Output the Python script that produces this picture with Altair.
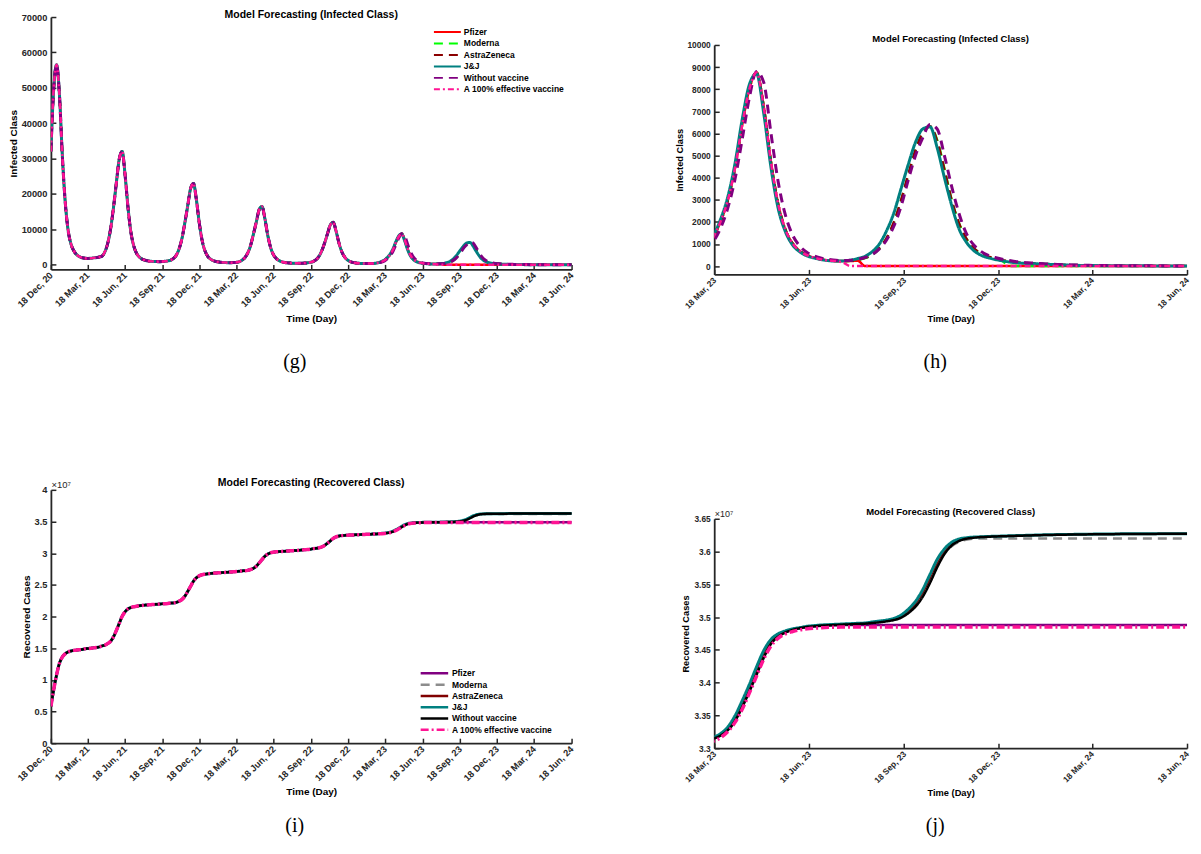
import altair as alt
import pandas as pd

SERIES = ["Pfizer", "Moderna", "AstraZeneca", "J&J", "Without vaccine", "A 100% effective vaccine"]
WEEK_DATES = pd.date_range("2020-12-18", periods=184, freq="7D").strftime("%Y-%m-%d").tolist()

# ---------------- Infected class (weekly samples) ----------------
INF_BASE = [
    32000, 50000, 56500, 48000, 31000, 18000, 10000, 6000, 4000, 2900,
    2300, 2000, 1850, 1800, 1850, 1950, 2050, 2200, 2500, 3800,
    6300, 10500, 16500, 23500, 30000, 32000, 25500, 16500, 9500, 5500,
    3300, 2200, 1600, 1300, 1100, 1000, 950, 900, 880, 900,
    1000, 1100, 1300, 1800, 2750, 4600, 7600, 12000, 16800, 21600,
    23000, 18500, 12000, 7000, 4000, 2400, 1600, 1150, 900, 760,
    680, 630, 600, 600, 620, 680, 850, 1300, 2000, 3300,
    5400, 8600, 12000, 15500, 16500, 13200, 8500, 5000, 2900, 1800,
    1200, 850, 650, 540, 480, 450, 440, 440, 450, 480,
    560, 700, 940, 1450, 2400, 4000, 6200, 8800, 11300, 12000,
    9500, 6200, 3700, 2200, 1350, 900, 650, 500, 420, 380,
    360, 350, 350, 380, 470, 620,
]
INF_JJ = [
    950, 1380, 2100, 3100, 4600, 6600, 8200, 8700, 6900, 4460,
    2600, 1550, 950, 640, 460, 360, 290, 245, 225, 235,
    270, 340, 440, 650, 1000, 1600, 2400, 3500, 4600, 5600,
    6200, 6300, 5350, 4000, 2750, 1700, 1100, 720, 500, 380,
    300, 240, 185, 150, 125, 110, 100, 85, 70, 55,
    45, 35, 30, 26, 22, 19, 17, 15, 13, 12,
    11, 10, 9, 8, 8, 7, 7, 6,
]
INF_WITHOUT = [
    750, 1100, 1700, 2600, 3900, 5700, 7600, 8800, 8300, 6000,
    3800, 2300, 1400, 900, 620, 460, 360, 300, 260, 250,
    265, 310, 390, 520, 780, 1180, 1800, 2700, 3900, 5000,
    5800, 6400, 6200, 5000, 3600, 2400, 1500, 980, 680, 500,
    390, 310, 250, 200, 165, 140, 120, 100, 85, 70,
    58, 48, 40, 34, 29, 25, 22, 19, 17, 15,
    13, 12, 11, 10, 9, 8, 8, 7,
]
INF_PFIZER = [
    880, 1300, 2000, 2950, 4400, 6350, 8000, 8750, 7200, 4700,
    2800, 1650, 1020, 680, 490, 380, 300, 255, 230, 225,
    230, 240, 0, 0, 0, 0, 0, 0, 0, 0,
] + [0] * 38
INF_FULL = [
    880, 1300, 2000, 2950, 4400, 6350, 8000, 8750, 7200, 4700,
    2800, 1650, 1020, 680, 490, 380, 300, 255, 230, 150,
    0, 0, 0, 0, 0, 0, 0, 0, 0, 0,
] + [0] * 38
INF_MODERNA = [
    880, 1300, 2000, 2950, 4400, 6350, 8000, 8750, 7200, 4700,
    2800, 1650, 1020, 680, 490, 380, 300, 255, 230, 225,
    240, 280, 360, 500, 800, 1250, 1950, 2950, 4100, 5200,
    6000, 6300, 5700, 4400, 3000, 1950, 1250, 820, 560, 420,
    320, 230,
] + [0] * 26
INF_ASTRA = [
    880, 1300, 2000, 2950, 4400, 6350, 8000, 8750, 7200, 4700,
    2800, 1650, 1020, 680, 490, 380, 300, 255, 230, 225,
    240, 285, 370, 520, 820, 1270, 1980, 2980, 4150, 5250,
    6050, 6320, 5650, 4350, 2980, 1950, 1260, 830, 580, 440,
    340, 270, 215, 175, 145, 125, 110, 95, 80, 66,
    54, 44, 36, 30, 26, 22, 19, 16, 14, 12,
    11, 10, 9, 8, 7, 7, 6, 6,
]

# ---------------- Recovered class (units of 1e7, weekly) ----------------
REC_BASE = [
    0.58, 0.85, 1.08, 1.26, 1.36, 1.41, 1.44, 1.455, 1.465, 1.47,
    1.475, 1.48, 1.49, 1.495, 1.50, 1.505, 1.51, 1.52, 1.536, 1.549,
    1.575, 1.613, 1.684, 1.786, 1.895, 2.004, 2.074, 2.119, 2.141, 2.154,
    2.162, 2.17, 2.175, 2.18, 2.183, 2.186, 2.19, 2.193, 2.196, 2.20,
    2.203, 2.207, 2.212, 2.215, 2.224, 2.243, 2.271, 2.323, 2.398, 2.478,
    2.558, 2.61, 2.642, 2.659, 2.668, 2.674, 2.68, 2.685, 2.688, 2.69,
    2.693, 2.696, 2.70, 2.703, 2.706, 2.71, 2.715, 2.72, 2.723, 2.729,
    2.742, 2.76, 2.794, 2.844, 2.897, 2.949, 2.984, 3.005, 3.015, 3.021,
    3.025, 3.028, 3.031, 3.034, 3.037, 3.04, 3.043, 3.046, 3.05, 3.054,
    3.058, 3.062, 3.072, 3.077, 3.085, 3.099, 3.123, 3.158, 3.195, 3.233,
    3.257, 3.270, 3.277, 3.281, 3.284, 3.286, 3.288, 3.290, 3.292, 3.294,
    3.296, 3.298, 3.300, 3.302, 3.304, 3.306,
]
REC_JJ = [
    3.3135, 3.3165, 3.322, 3.332, 3.349, 3.372, 3.397, 3.424, 3.449, 3.466,
    3.4745, 3.479, 3.482, 3.484, 3.486, 3.487, 3.488, 3.4885, 3.489, 3.4895,
    3.490, 3.4905, 3.491, 3.4925, 3.494, 3.4955, 3.498, 3.503, 3.512, 3.524,
    3.542, 3.565, 3.588, 3.604, 3.614, 3.619, 3.621, 3.622, 3.6225, 3.623,
    3.6233, 3.6236, 3.624, 3.6243, 3.6246, 3.6249, 3.6252, 3.6255, 3.6257, 3.6259,
    3.6261, 3.6262, 3.6264, 3.6265, 3.6266, 3.6267, 3.6268, 3.6269, 3.627, 3.627,
    3.627, 3.627, 3.627, 3.627, 3.627, 3.627, 3.627, 3.627,
]
REC_WITHOUT = [
    3.312, 3.3145, 3.319, 3.327, 3.341, 3.362, 3.386, 3.412, 3.438, 3.459,
    3.470, 3.4765, 3.4805, 3.483, 3.485, 3.486, 3.487, 3.4875, 3.488, 3.4885,
    3.489, 3.4895, 3.490, 3.491, 3.492, 3.4935, 3.4955, 3.499, 3.506, 3.516,
    3.531, 3.552, 3.576, 3.596, 3.609, 3.616, 3.6195, 3.621, 3.622, 3.6225,
    3.623, 3.6233, 3.6236, 3.624, 3.6243, 3.6246, 3.6249, 3.6252, 3.6254, 3.6256,
    3.6258, 3.626, 3.6261, 3.6262, 3.6263, 3.6264, 3.6265, 3.6266, 3.6267, 3.6268,
    3.6268, 3.6269, 3.6269, 3.627, 3.627, 3.627, 3.627, 3.627,
]
REC_ASTRA = [
    3.3128, 3.3155, 3.3205, 3.3295, 3.345, 3.367, 3.3915, 3.418, 3.4435, 3.4625,
    3.472, 3.4778, 3.4813, 3.4835, 3.4855, 3.4865, 3.4875, 3.488, 3.4885, 3.489,
    3.4895, 3.490, 3.4905, 3.492, 3.493, 3.4945, 3.497, 3.501, 3.509, 3.520,
    3.5365, 3.5585, 3.582, 3.600, 3.6115, 3.6175, 3.620, 3.6215, 3.6222, 3.6228,
    3.6233, 3.6236, 3.624, 3.6243, 3.6246, 3.6249, 3.6252, 3.6255, 3.6257, 3.6259,
    3.6261, 3.6262, 3.6264, 3.6265, 3.6266, 3.6267, 3.6268, 3.6269, 3.627, 3.627,
    3.627, 3.627, 3.627, 3.627, 3.627, 3.627, 3.627, 3.627,
]
REC_MODERNA = [
    3.3128, 3.3155, 3.3205, 3.3295, 3.345, 3.367, 3.3915, 3.418, 3.4435, 3.4625,
    3.472, 3.4778, 3.4813, 3.4835, 3.4855, 3.4865, 3.4875, 3.488, 3.4885, 3.489,
    3.4895, 3.490, 3.4905, 3.492, 3.493, 3.4945, 3.497, 3.501, 3.509, 3.520,
    3.5365, 3.558, 3.580, 3.597, 3.608, 3.6145, 3.618, 3.6195,
] + [3.620] * 30
REC_PFIZER = [
    3.3125, 3.315, 3.3205, 3.3295, 3.345, 3.367, 3.392, 3.418, 3.444, 3.463,
    3.472, 3.477, 3.481, 3.483, 3.4848, 3.4858, 3.4866, 3.4872, 3.4876, 3.4878,
] + [3.488] * 48
REC_FULL = [
    3.3075, 3.3105, 3.316, 3.325, 3.339, 3.359, 3.384, 3.410, 3.436, 3.456,
    3.468, 3.4745, 3.478, 3.4805, 3.482, 3.483, 3.4838, 3.4843, 3.4846, 3.4848,
] + [3.485] * 48

INF_TAILS = [INF_PFIZER, INF_MODERNA, INF_ASTRA, INF_JJ, INF_WITHOUT, INF_FULL]
REC_TAILS = [REC_PFIZER, REC_MODERNA, REC_ASTRA, REC_JJ, REC_WITHOUT, REC_FULL]

INF_COLORS = ["#FF0000", "#00FF00", "#8B0000", "#008080", "#800080", "#FF1493"]
INF_DASHES = [[1, 0], [9, 6], [9, 6], [1, 0], [9, 6], [6, 3, 2, 3]]
INF_WIDTHS = [2.5, 2.5, 2.5, 3, 3, 2.5]

REC_COLORS = ["#800080", "#8C8C8C", "#800000", "#008080", "#000000", "#FF1493"]
REC_DASHES = [[1, 0], [9, 6], [1, 0], [1, 0], [1, 0], [8, 3, 2, 3]]
REC_WIDTHS = [2.5, 2.5, 1.5, 3, 2.5, 3.5]

INF_Y_TICKS_G = [0, 10000, 20000, 30000, 40000, 50000, 60000, 70000]
INF_Y_TICKS_H = [0, 1000, 2000, 3000, 4000, 5000, 6000, 7000, 8000, 9000, 10000]
REC_Y_TICKS_I = [0, 0.5, 1, 1.5, 2, 2.5, 3, 3.5, 4]
REC_Y_TICKS_J = [3.3, 3.35, 3.4, 3.45, 3.5, 3.55, 3.6, 3.65]


def frame(base, tails):
    rows = []
    for name, tail in zip(SERIES, tails):
        vals = base + tail
        assert len(vals) == len(WEEK_DATES), (name, len(vals))
        for d, v in zip(WEEK_DATES, vals):
            rows.append({"date": d, "series": name, "value": v})
    return pd.DataFrame(rows)


INF_DF = frame(INF_BASE, INF_TAILS)
REC_DF = frame(REC_BASE, REC_TAILS)


def dt(y, m):
    return alt.DateTime(year=y, month=m, date=18, utc=True)


FULL_TICKS = [dt(2020, 12)] + [dt(y, m) for y in (2021, 2022, 2023) for m in (3, 6, 9, 12)] + [dt(2024, 3), dt(2024, 6)]
ZOOM_TICKS = [dt(2023, 3), dt(2023, 6), dt(2023, 9), dt(2023, 12), dt(2024, 3), dt(2024, 6)]

AX = "#262626"


def panel(df, colors, dashes, widths, x_dom, x_ticks, y_dom, y_ticks, y_fmt, y_title, title,
          fs, w, h, top, cap, cap_x, cap_y, t_offset, t_dy, legend=None, date_min=None, exp_label=False):
    # top: pixels of empty room above the plotted area inside the view
    if date_min is not None:
        df = df[df["date"] >= date_min]
    xscale = alt.Scale(type="utc", domain=x_dom)
    yscale = alt.Scale(domain=y_dom, nice=False, zero=False, range=[h + top, top])
    xaxis = alt.Axis(values=x_ticks, format="%d %b, %y", labelAngle=-45, labelAlign="right",
                     labelBaseline="middle", labelOverlap=False, labelFlush=False,
                     labelFontSize=fs["tick"], labelFontWeight="bold", labelColor=AX,
                     labelPadding=9, tickSize={"expr": "-5"}, tickColor=AX, tickWidth=1.5,
                     domainColor=AX, domainWidth=1.8, grid=False,
                     title="Time (Day)", titleFontSize=fs["axis"], titleFontWeight="bold",
                     titleColor="#000000", titlePadding=4)
    yaxis = alt.Axis(values=y_ticks, format=y_fmt, labelOverlap=False, labelFlush=False,
                     labelFontSize=fs["tick"], labelFontWeight="bold", labelColor=AX,
                     labelPadding=9, tickSize={"expr": "-5"}, tickColor=AX, tickWidth=1.5,
                     domainColor=AX, domainWidth=1.8, grid=False,
                     title=y_title, titleFontSize=fs["axis"], titleFontWeight="bold",
                     titleColor="#000000", titlePadding=3)
    lines = []
    for name, wd in zip(SERIES, widths):
        sub = df[df["series"] == name]
        lines.append(
            alt.Chart(sub).mark_line(strokeWidth=wd, clip=True, interpolate="monotone").encode(
                x=alt.X("date:T", scale=xscale, axis=xaxis),
                y=alt.Y("value:Q", scale=yscale, axis=yaxis),
                color=alt.Color("series:N", scale=alt.Scale(domain=SERIES, range=colors), legend=legend),
                strokeDash=alt.StrokeDash("series:N", scale=alt.Scale(domain=SERIES, range=dashes), legend=legend),
            )
        )
    cap_axis = alt.Axis(orient="bottom", title=cap, titleFont="Liberation Serif", titleFontSize=20,
                        titleFontWeight="normal", titleColor="#000000", titleX=cap_x, titleY=cap_y,
                        titleAlign="center", titleBaseline="middle", titleAngle=0,
                        labels=False, ticks=False, domain=False, grid=False)
    if exp_label:
        exp_axis = alt.Axis(orient="left", title="×10⁷", titleAngle=0, titleX=0, titleY=top - 2,
                            titleAlign="left", titleBaseline="alphabetic",
                            titleFontSize=fs["exp"], titleFontWeight="normal",
                            titleColor=AX, labels=False, ticks=False, domain=False, grid=False)
    else:
        exp_axis = None
    helper = alt.Chart(df[df["series"] == SERIES[0]]).mark_line(opacity=0, clip=True).encode(
        x=alt.X("date:T", scale=xscale, axis=cap_axis),
        y=alt.Y("value:Q", scale=yscale, axis=exp_axis),
    )
    ch = alt.layer(alt.layer(*lines), helper).resolve_axis(x="independent", y="independent").properties(
        width=w, height=h + top,
        title=alt.TitleParams(title, fontSize=fs["title"], fontWeight="bold", anchor="middle",
                              frame="group", offset=t_offset, dy=t_dy, color="#000000"),
    )
    return ch


FS_BIG = {"tick": 9.3, "axis": 10, "title": 10.5, "exp": 9.5}
FS_SMALL = {"tick": 8.4, "axis": 9.3, "title": 9.5, "exp": 9}

LEG_G = alt.Legend(orient="none", legendX=383, legendY=10, title=None, symbolType="stroke",
                   symbolSize=729, symbolStrokeWidth=2, clipHeight=10, rowPadding=1.5,
                   labelFontSize=8.5, labelFontWeight="bold", labelColor="#000000",
                   labelOffset=2, padding=0)
LEG_I = alt.Legend(orient="none", legendX=369, legendY=179, title=None, symbolType="stroke",
                   symbolSize=760, symbolStrokeWidth=2.5, clipHeight=10, rowPadding=1.3,
                   labelFontSize=8.5, labelFontWeight="bold", labelColor="#000000",
                   labelOffset=2, padding=0)

g = panel(INF_DF, INF_COLORS, INF_DASHES, INF_WIDTHS, [dt(2020, 12), dt(2024, 6)], FULL_TICKS,
          [-1300, 70000], INF_Y_TICKS_G, "d", "Infected Class", "Model Forecasting (Infected Class)",
          FS_BIG, 522, 253, 0, "(g)", 244, 92, -7, 0, legend=LEG_G)
h = panel(INF_DF, INF_COLORS, INF_DASHES, INF_WIDTHS, [dt(2023, 3), dt(2024, 6)], ZOOM_TICKS,
          [-375, 10000], INF_Y_TICKS_H, "d", "Infected Class", "Model Forecasting (Infected Class)",
          FS_SMALL, 474, 230, 28, "(h)", 221, 87, -5, 22, legend=None, date_min="2023-02-20")
i = panel(REC_DF, REC_COLORS, REC_DASHES, REC_WIDTHS, [dt(2020, 12), dt(2024, 6)], FULL_TICKS,
          [0, 4], REC_Y_TICKS_I, "~g", "Recovered Cases", "Model Forecasting (Recovered Class)",
          FS_BIG, 522, 254, 0, "(i)", 244, 83, -9, 0, legend=LEG_I, exp_label=True)
j = panel(REC_DF, REC_COLORS, REC_DASHES, REC_WIDTHS, [dt(2023, 3), dt(2024, 6)], ZOOM_TICKS,
          [3.3, 3.65], REC_Y_TICKS_J, "~g", "Recovered Cases", "Model Forecasting (Recovered Class)",
          FS_SMALL, 474, 230, 29, "(j)", 221, 78, -5, 22, legend=None, date_min="2023-02-20", exp_label=True)

chart = alt.concat(g, h, i, j, columns=2, spacing={"row": 216, "column": 143}, bounds="flush").resolve_scale(
    color="independent", strokeDash="independent", x="independent", y="independent"
).resolve_legend(color="independent", strokeDash="independent").properties(
    padding={"left": 0, "top": 0, "right": 2, "bottom": 2}
).configure(font="Liberation Sans").configure_view(stroke=None)

chart.save("out.html", embed_options={"renderer": "svg", "actions": False})
